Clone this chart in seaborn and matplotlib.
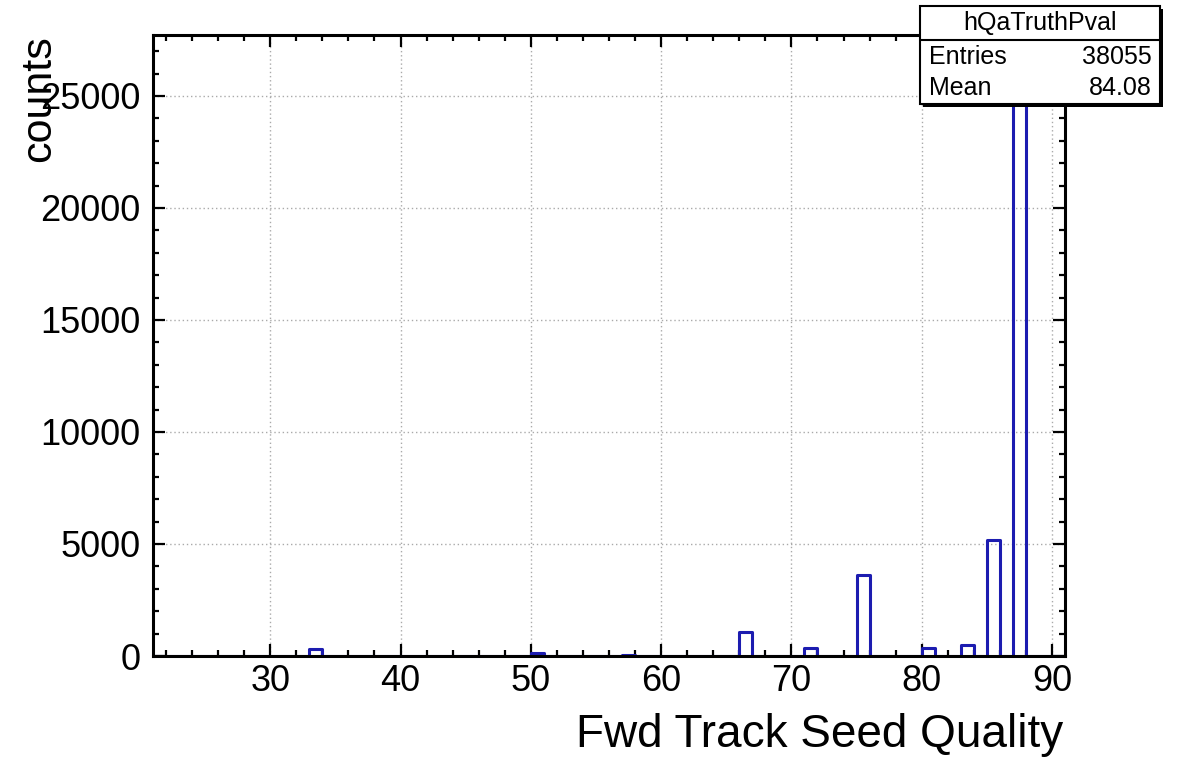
import numpy as np
import pandas as pd
import matplotlib
matplotlib.use("Agg")
import matplotlib.pyplot as plt
import seaborn as sns
from matplotlib.ticker import MultipleLocator
from matplotlib.patches import Rectangle
from matplotlib.lines import Line2D

# ---- data ----
bin_low = [33, 50, 57, 66, 71, 75, 80, 83, 85, 87]
counts = [300, 150, 40, 1050, 340, 3600, 370, 470, 5200, 26400]
x_range = (21, 91)
stats_title = "hQaTruthPval"
stats_labels = ["Entries", "Mean"]
stats_values = ["38055", "84.08"]
x_label = "Fwd Track Seed Quality"
y_label = "counts"

df = pd.DataFrame({"quality": [b + 0.5 for b in bin_low], "counts": counts})

sns.set_theme(style="white")
plt.rcParams["font.family"] = ["Liberation Sans", "DejaVu Sans"]
plt.rcParams["text.color"] = "black"
plt.rcParams["axes.labelcolor"] = "black"
plt.rcParams["xtick.color"] = "black"
plt.rcParams["ytick.color"] = "black"

W, H = 1182, 757
fig = plt.figure(figsize=(W / 100, H / 100), dpi=100)
ax = fig.add_axes([153 / W, 1 - 656 / H, (1065 - 153) / W, (656 - 35) / H])

sns.histplot(data=df, x="quality", weights="counts",
             binwidth=1, binrange=x_range,
             element="step", fill=False, color="#1c1cb0", linewidth=2.2, ax=ax)

ax.set_xlim(*x_range)
ax.set_ylim(0, max(counts) * 1.05)

ax.xaxis.set_major_locator(MultipleLocator(10))
ax.xaxis.set_minor_locator(MultipleLocator(2))
ax.yaxis.set_major_locator(MultipleLocator(5000))
ax.yaxis.set_minor_locator(MultipleLocator(1000))

ax.grid(True, which="major", linestyle=(0, (1, 2)), color="#aaaaaa", linewidth=1)
ax.set_axisbelow(True)

for s in ax.spines.values():
    s.set_linewidth(2.2)
    s.set_color("black")
    s.set_visible(True)

ax.tick_params(which="both", direction="in", top=True, right=True,
               bottom=True, left=True, color="black", labelcolor="black")
ax.tick_params(which="major", length=8.5, width=1.6, labelsize=26)
ax.tick_params(which="minor", length=4.3, width=1.6)
ax.tick_params(axis="y", pad=9)
ax.tick_params(axis="x", pad=6)

ax.set_xlabel("")
ax.set_ylabel("")
fig.text(1063 / W, 1 - 735 / H, x_label, ha="right", va="center", fontsize=33, color="black")
fig.text(39 / W, 1 - 35 / H, y_label, ha="center", va="top", rotation=90, fontsize=31, color="black")

# stats box
x0, x1 = 920 / W, 1160 / W
y0, y1 = 1 - 104 / H, 1 - 6 / H
shadow = Rectangle((x0 + 3 / W, y0 - 3 / H), x1 - x0, y1 - y0, transform=fig.transFigure,
                   facecolor="black", edgecolor="black", linewidth=0, zorder=9)
box = Rectangle((x0, y0), x1 - x0, y1 - y0, transform=fig.transFigure,
                facecolor="white", edgecolor="black", linewidth=1.5, zorder=10)
fig.add_artist(shadow)
fig.add_artist(box)
fig.add_artist(Line2D([x0, x1], [1 - 40 / H, 1 - 40 / H], transform=fig.transFigure,
                      color="black", linewidth=1.5, zorder=11))
fig.text((x0 + x1) / 2, 1 - 23 / H, stats_title, ha="center", va="center", fontsize=18, zorder=12)
for i, (lab, val) in enumerate(zip(stats_labels, stats_values)):
    yy = 1 - (57 + i * 31) / H
    fig.text(929 / W, yy, lab, ha="left", va="center", fontsize=18, zorder=12)
    fig.text(1152 / W, yy, val, ha="right", va="center", fontsize=18, zorder=12)

fig.savefig("out.png", dpi=100, facecolor="white")
